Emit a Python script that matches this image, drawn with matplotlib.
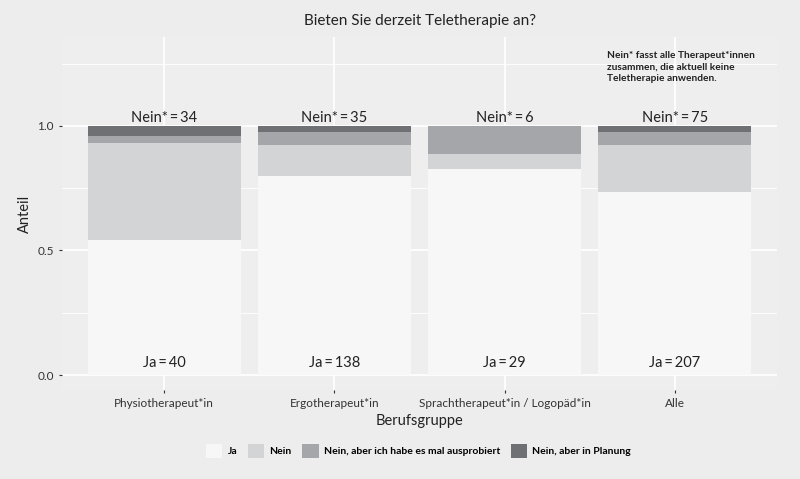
import numpy as np
import matplotlib.pyplot as plt
from matplotlib.patches import Patch

plt.rcParams['font.family'] = ['Lato', 'DejaVu Sans']

gruppen = ["Physiotherapeut*in", "Ergotherapeut*in",
           "Sprachtherapeut*in / Logopäd*in", "Alle"]
ja = np.array([40, 138, 29, 207])
nein = np.array([29, 22, 2, 53])
nein_ausprobiert = np.array([2, 9, 4, 15])
nein_planung = np.array([3, 4, 0, 7])

kategorien = ["Ja", "Nein", "Nein, aber ich habe es mal ausprobiert",
              "Nein, aber in Planung"]
farben = ["#F7F7F7", "#D3D4D6", "#A5A6A9", "#6F7073"]

bg = "#EDEDED"
counts = [ja, nein, nein_ausprobiert, nein_planung]
total = ja + nein + nein_ausprobiert + nein_planung
nein_stern = total - ja

fig = plt.figure(figsize=(8, 4.79), dpi=100, facecolor=bg)
ax = fig.add_axes([62 / 800, 1 - 390 / 479, 715 / 800, 353 / 479])
ax.set_facecolor("#EEEEEE")

x = np.arange(1, len(gruppen) + 1)

# grid
for v in [0.25, 0.75, 1.25]:
    ax.axhline(v, color="white", lw=0.6, zorder=0)
for v in [0, 0.5, 1.0]:
    ax.axhline(v, color="white", lw=1.2, zorder=0)
for xv in x:
    ax.axvline(xv, color="white", lw=1.2, zorder=0)

bottom = np.zeros(len(gruppen))
for c, col in zip(counts, farben):
    share = c / total
    ax.bar(x, share, bottom=bottom, width=0.9, color=col, zorder=2)
    bottom += share

ts = "\u2009"
for xi, j, n in zip(x, ja, nein_stern):
    ax.text(xi, 0.05, f"Ja{ts}={ts}{j}", ha="center", va="center",
            fontsize=10.5, color="#222222", zorder=3)
    ax.text(xi, 1.033, f"Nein*{ts}={ts}{n}", ha="center", va="center",
            fontsize=10.5, color="#222222", zorder=3)

ax.text(3.6, 1.237, "Nein* fasst alle Therapeut*innen\nzusammen, die aktuell keine\nTeletherapie anwenden.",
        ha="left", va="center", fontsize=7.3, fontweight="bold",
        color="#222222", linespacing=1.35, zorder=3)

ax.set_xlim(0.4, 4.6)
ax.set_ylim(-0.06, 1.357)
ax.set_xticks(x)
ax.set_xticklabels(gruppen, fontsize=8.5, color="#333333")
ax.set_yticks([0, 0.5, 1.0])
ax.set_yticklabels(["0.0", "0.5", "1.0"], fontsize=8.5, color="#333333")
ax.tick_params(length=2.5, width=0.8, color="#333333")
for s in ax.spines.values():
    s.set_visible(False)

ax.set_xlabel("Berufsgruppe", fontsize=10.5, color="#222222", labelpad=3)
ax.set_ylabel("Anteil", fontsize=10.5, color="#222222", labelpad=4)
ax.set_title("Bieten Sie derzeit Teletherapie an?", fontsize=11,
             color="#222222", pad=9)

handles = [Patch(facecolor=f, edgecolor="none") for f in farben]
fig.legend(handles, kategorien, loc="center", bbox_to_anchor=(0.523, 1 - 451 / 479),
           ncol=4, frameon=False, handlelength=1.6, handleheight=1.6,
           handletextpad=0.5, columnspacing=1.0,
           prop={"weight": "bold", "size": 7.5})

fig.savefig("out.png", dpi=100, facecolor=bg)
